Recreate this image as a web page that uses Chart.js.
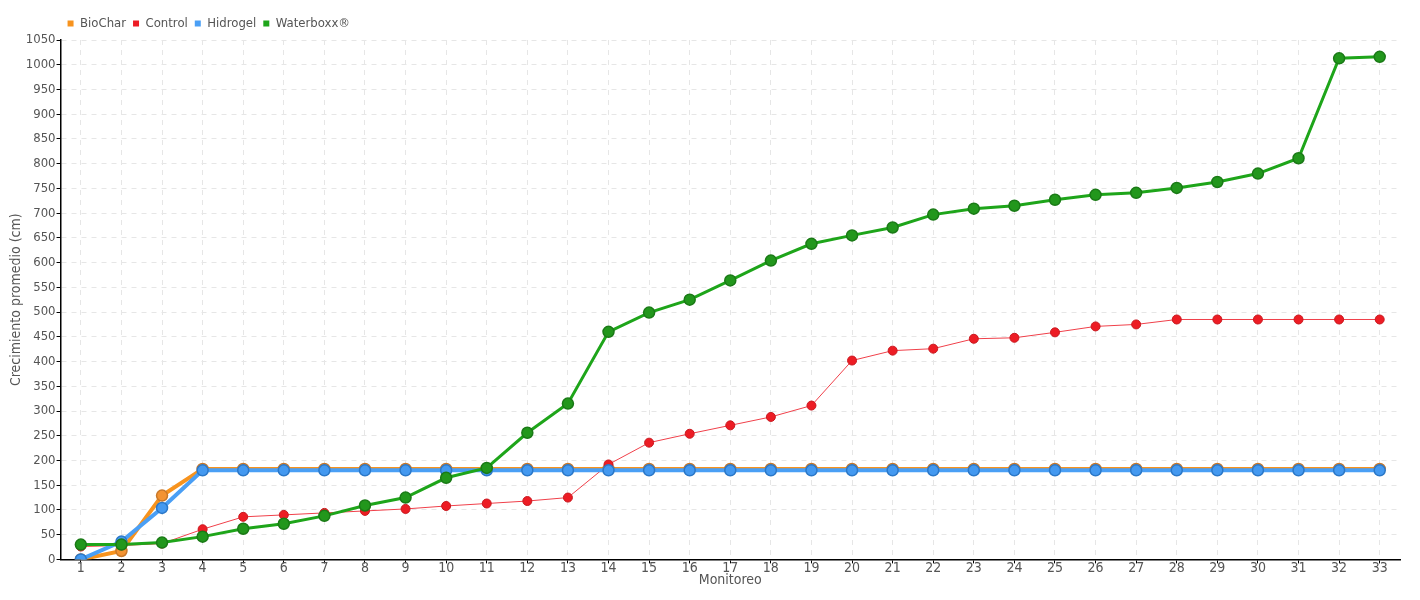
<!DOCTYPE html>
<html>
<head>
<meta charset="utf-8">
<script src="https://cdn.jsdelivr.net/npm/chart.js@4.4.0/dist/chart.umd.min.js"></script>
<style>
  html, body { margin: 0; padding: 0; background: #fff; }
  #wrap { width: 1420px; height: 600px; }
</style>
</head>
<body>
<div id="wrap"><canvas id="chart-crecimiento"></canvas></div>
<script>
const monitoreo = [];
for (let i = 1; i <= 33; i++) monitoreo.push(String(i));

const biochar = [0, 17, 129, 183, 183, 183, 183, 183, 183, 183, 183, 183, 183, 183, 183, 183, 183,
    183, 183, 183, 183, 183, 183, 183, 183, 183, 183, 183, 183, 183, 183, 183, 183];
const control = [26, 28, 32, 61, 86, 90, 94, 98, 102, 108, 113, 118, 125, 192, 236, 254, 271,
    288, 311, 402, 422, 426, 446, 448, 459, 471, 475, 485, 485, 485, 485, 485, 485];
const hidrogel = [0, 36, 104, 180, 180, 180, 180, 180, 180, 180, 180, 180, 180, 180, 180, 180, 180,
    180, 180, 180, 180, 180, 180, 180, 180, 180, 180, 180, 180, 180, 180, 180, 180];
const waterboxx = [30, 30, 34, 46, 62, 72, 88, 109, 125, 165, 185, 256, 315, 460, 499, 525, 564,
    604, 638, 655, 671, 697, 709, 715, 727, 737, 741, 751, 763, 780, 811, 1013, 1016];

const fontFam = "'Liberation Sans Narrow', 'DejaVu Sans Condensed', sans-serif";

function loadChartCrecimiento() {
    const ctx = document.getElementById('chart-crecimiento').getContext('2d');
    const myChart = new Chart(ctx, {
        type: 'line',
        data: {
            labels: monitoreo,
            datasets: [{
                    label: 'BioChar',
                    data: biochar,
                    borderColor: '#f7931e',
                    backgroundColor: '#f7931e',
                    pointBackgroundColor: '#f39332',
                    pointBorderColor: '#c8782a',
                    borderWidth: 4,
                    pointRadius: 5.5,
                    pointBorderWidth: 1.5,
                    order: 3
                }, {
                    label: 'Control',
                    data: control,
                    borderColor: '#f0404a',
                    backgroundColor: '#ed1c24',
                    pointBackgroundColor: '#ed1c24',
                    pointBorderColor: '#c8181f',
                    borderWidth: 1,
                    pointRadius: 4.5,
                    pointBorderWidth: 1,
                    order: 2
                }, {
                    label: 'Hidrogel',
                    data: hidrogel,
                    borderColor: '#4a9ff5',
                    backgroundColor: '#4a9ff5',
                    pointBackgroundColor: '#4499f0',
                    pointBorderColor: '#2b78c8',
                    borderWidth: 4,
                    pointRadius: 5.5,
                    pointBorderWidth: 1.5,
                    order: 1
                }, {
                    label: 'Waterboxx®',
                    data: waterboxx,
                    borderColor: '#1ea51a',
                    backgroundColor: '#1ea51a',
                    pointBackgroundColor: '#22971c',
                    pointBorderColor: '#1a7a16',
                    borderWidth: 3,
                    pointRadius: 5.5,
                    pointBorderWidth: 1.5,
                    order: 0
                }]
        },
        options: {
            responsive: true,
            maintainAspectRatio: false,
            animation: false,
            layout: { padding: { left: 8, right: 20, top: 10, bottom: 9 } },
            plugins: {
                legend: {
                    align: 'start',
                    fullSize: false,
                    labels: {
                        boxWidth: 6,
                        boxHeight: 6,
                        padding: 7,
                        color: '#555',
                        font: { family: fontFam, size: 13 },
                        sort: (a, b) => a.datasetIndex - b.datasetIndex,
                        generateLabels: (chart) => {
                            const items = Chart.defaults.plugins.legend.labels.generateLabels(chart);
                            items.forEach(it => { it.lineWidth = 0; });
                            return items;
                        }
                    }
                },
                tooltip: { enabled: false }
            },
            scales: {
                x: {
                    offset: true,
                    grid: {
                        offset: false,
                        color: '#e6e6e6',
                        tickColor: '#000',
                        tickLength: 4
                    },
                    border: { color: '#000', width: 1.5, dash: [5, 5] },
                    ticks: { color: '#555', font: { family: fontFam, size: 14 }, maxRotation: 0, padding: -3 },
                    title: {
                        display: true,
                        text: 'Monitoreo',
                        color: '#555',
                        font: { family: fontFam, size: 14 },
                        padding: { top: -2, bottom: 2 }
                    }
                },
                y: {
                    min: 0,
                    max: 1050,
                    grid: {
                        color: '#e6e6e6',
                        tickColor: '#000',
                        tickLength: 4
                    },
                    border: { color: '#000', width: 1.5, dash: [5, 5] },
                    ticks: {
                        stepSize: 50,
                        color: '#555',
                        font: { family: fontFam, size: 13 },
                        padding: 1,
                        callback: (v) => String(v)
                    },
                    title: {
                        display: true,
                        text: 'Crecimiento promedio (cm)',
                        color: '#555',
                        font: { family: fontFam, size: 14 },
                        padding: { top: 0, bottom: 0 }
                    }
                }
            }
        }
    });
}

loadChartCrecimiento();
</script>
</body>
</html>
